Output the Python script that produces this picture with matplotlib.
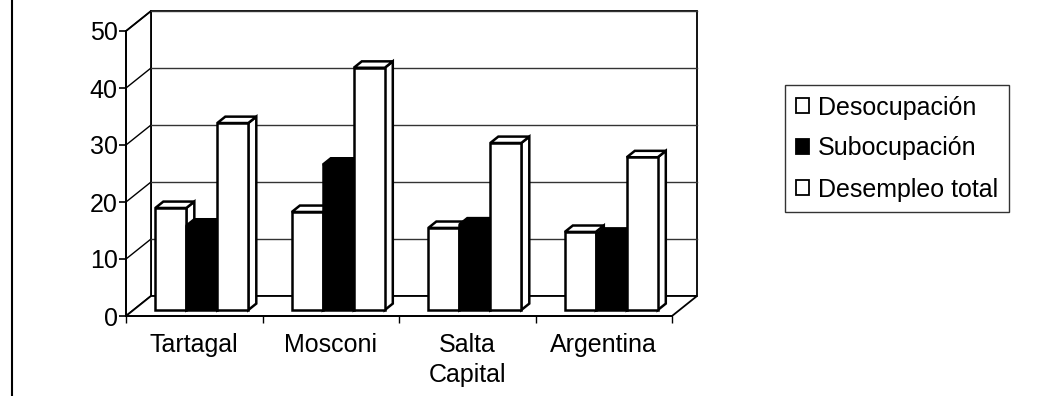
import numpy as np
import matplotlib
matplotlib.use('Agg')
import matplotlib.pyplot as plt
from matplotlib.patches import Polygon, Patch
from matplotlib.lines import Line2D

# data
categories = ['Tartagal', 'Mosconi', 'Salta\nCapital', 'Argentina']
series_names = ['Desocupación', 'Subocupación', 'Desempleo total']
desocupacion = [17.9, 17.2, 14.4, 13.7]
subocupacion = [14.8, 25.5, 15.0, 13.2]
desempleo_total = [32.8, 42.5, 29.3, 26.8]
yticks = [0, 10, 20, 30, 40, 50]

series = [desocupacion, subocupacion, desempleo_total]
face_cols = ['white', 'black', 'white']

plt.rcParams['font.family'] = ['Liberation Sans', 'DejaVu Sans']
FS = 18

fig = plt.figure(figsize=(10.42, 3.96), dpi=100)
W, H = 1042., 396.
ax = fig.add_axes([126/W, 80/H, 546/W, 285/H])
ncat = len(categories)
ymax = 50
ax.set_xlim(0, ncat)
ax.set_ylim(0, ymax)

# depth of the 3d box (data units)
DX = 25/136.5
DY = 20/5.7

def proj(x, y, z):
    return (x + z*DX, y + z*DY)

def poly(pts, fc, ec='black', lw=1.0, z=1):
    ax.add_patch(Polygon(pts, closed=True, facecolor=fc, edgecolor=ec,
                         lw=lw, clip_on=False, zorder=z, joinstyle='miter'))

# back wall
poly([proj(0, 0, 1), proj(ncat, 0, 1), proj(ncat, ymax, 1), proj(0, ymax, 1)], 'white', lw=1.3, z=1)
# left wall
poly([proj(0, 0, 0), proj(0, 0, 1), proj(0, ymax, 1), proj(0, ymax, 0)], 'white', lw=1.3, z=1)
# floor
poly([proj(0, 0, 0), proj(ncat, 0, 0), proj(ncat, 0, 1), proj(0, 0, 1)], 'white', lw=1.3, z=1)

# gridlines
for v in yticks[1:]:
    a = proj(0, v, 0); b = proj(0, v, 1); c = proj(ncat, v, 1)
    ax.plot([a[0], b[0]], [a[1], b[1]], color='black', lw=1.0, clip_on=False, zorder=2)
    ax.plot([b[0], c[0]], [b[1], c[1]], color='#333333', lw=1.0, clip_on=False, zorder=2)

# bars
bw = 0.227
off = 0.16
z0, z1 = 0.3, 0.62
zo = 3
for i in range(ncat):
    for j, vals in enumerate(series):
        v = vals[i]
        x0 = i + off + j*bw
        x1 = x0 + bw
        fc = face_cols[j]
        # side
        poly([proj(x1, 0, z0), proj(x1, 0, z1), proj(x1, v, z1), proj(x1, v, z0)], fc, lw=1.8, z=zo)
        # top
        poly([proj(x0, v, z0), proj(x1, v, z0), proj(x1, v, z1), proj(x0, v, z1)], fc, lw=1.8, z=zo)
        # front
        poly([proj(x0, 0, z0), proj(x1, 0, z0), proj(x1, v, z0), proj(x0, v, z0)], fc, lw=1.8, z=zo + 0.5)
        zo += 1

# axes
for s in ['top', 'right']:
    ax.spines[s].set_visible(False)
ax.spines['left'].set_bounds(0, ymax)
ax.spines['bottom'].set_bounds(0, ncat)
for s in ['left', 'bottom']:
    ax.spines[s].set_linewidth(1.3)
    ax.spines[s].set_zorder(50)
ax.set_yticks(yticks)
ax.set_yticklabels([str(t) for t in yticks], fontsize=FS)
ax.tick_params(axis='y', direction='out', length=5, width=1.2, pad=1)
ax.set_xticks(np.arange(ncat + 1))
ax.set_xticklabels([])
ax.tick_params(axis='x', which='major', direction='out', length=5, width=1.0)
ax.set_xticks(np.arange(ncat) + 0.5, minor=True)
ax.set_xticklabels(categories, minor=True, fontsize=FS, linespacing=1.35)
ax.tick_params(axis='x', which='minor', length=0, pad=12)
ax.patch.set_visible(False)

handles = [Patch(facecolor=c, edgecolor='black', lw=1.3) for c in face_cols]
leg = fig.legend(handles, series_names, loc='upper left', bbox_to_anchor=(785/W, 1 - 85/H),
                 bbox_transform=fig.transFigure, fontsize=FS, frameon=True, fancybox=False,
                 edgecolor='black', handlelength=0.55, handleheight=0.55, handletextpad=0.35,
                 labelspacing=0.68, borderpad=0.42, borderaxespad=0)
leg.get_frame().set_linewidth(1.0)

fig.add_artist(Line2D([12/W, 12/W], [0, 1], transform=fig.transFigure, color='black', lw=1.5))

fig.savefig('out.png', dpi=100)
